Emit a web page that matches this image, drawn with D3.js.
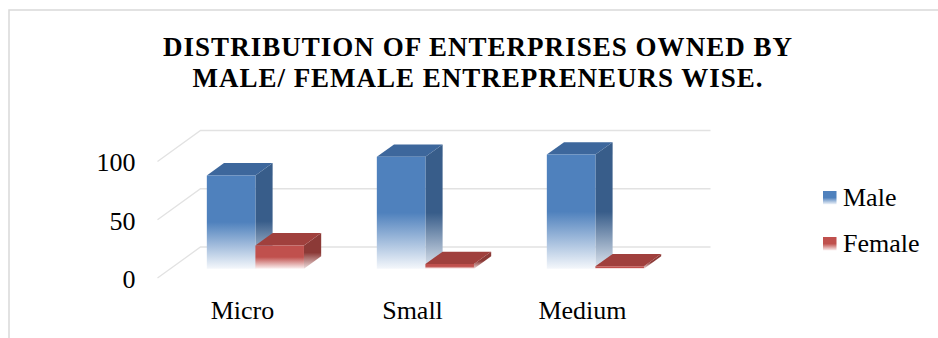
<!DOCTYPE html>
<html>
<head>
<meta charset="utf-8">
<script src="https://cdn.jsdelivr.net/npm/d3@7"></script>
<style>
  html, body { margin: 0; padding: 0; background: #fff; }
  svg { display: block; }
  text { font-family: "Liberation Serif", "Times New Roman", serif; fill: #000; }
</style>
</head>
<body>
<svg id="chart" width="938" height="338"></svg>
<script>
// Chart data
const titleLines = ["DISTRIBUTION OF ENTERPRISES OWNED BY", "MALE/ FEMALE ENTREPRENEURS WISE."];
const titleWidths = [629, 570];
const categories = ["Micro", "Small", "Medium"];
const seriesNames = ["Male", "Female"];
const maleValues = [80, 96, 98];
const femaleValues = [20, 4, 2];
const yTicks = [0, 50, 100];

const seriesValues = [maleValues, femaleValues];
const serif = "'Liberation Serif', 'Times New Roman', serif";
const palette = {
  Male:   { front: "#4f81bd", side: "#385d8a", top: "#3d679c", fadeFront: "#f4f7fb", fadeSide: "#dfe6ef" },
  Female: { front: "#c0504d", side: "#8c3a37", top: "#a0403d", fadeFront: "#fbf1f1", fadeSide: "#efdede" }
};

const svg = d3.select("#chart");
const defs = svg.append("defs");

// Frame around the chart area
svg.append("path")
  .attr("d", "M9,338 V10 H938")
  .attr("fill", "none")
  .attr("stroke", "#d9d9d9")
  .attr("stroke-width", 1.5);

// Title
svg.append("g").selectAll("text")
  .data(titleLines)
  .join("text")
  .attr("x", 477.5)
  .attr("y", (d, i) => 56 + i * 31)
  .attr("text-anchor", "middle")
  .attr("font-family", serif)
  .attr("font-size", 27)
  .attr("font-weight", "bold")
  .attr("textLength", (d, i) => titleWidths[i])
  .attr("lengthAdjust", "spacing")
  .text(d => d);

// Oblique 3D projection: front plane (z = 0) to back wall (z = 1)
const depthDx = 43, depthDy = -31;
const x0 = d3.scaleBand().domain(categories).range([157.5, 667.5]).padding(0);
const x1 = d3.scaleBand().domain(seriesNames).range([0, x0.bandwidth()])
  .paddingInner(0).paddingOuter(0.75);
const y = d3.scaleLinear().domain([0, 100]).range([278, 161.5]);
const P = (x, v, z) => [x + z * depthDx, y(v) + z * depthDy];

// Gridlines on back wall and side wall
const grid = svg.append("g").attr("stroke", "#e2e2e2").attr("stroke-width", 1.3).attr("fill", "none");
yTicks.forEach(t => {
  const a = P(x0.range()[0], t, 0), b = P(x0.range()[0], t, 1), c = P(x0.range()[1], t, 1);
  grid.append("path").attr("d", `M${a}L${b}L${c}`);
});

// Gradients for bar faces
seriesNames.forEach(s => {
  const c = palette[s];
  const gf = defs.append("linearGradient").attr("id", "front-" + s)
    .attr("x1", 0).attr("y1", 0).attr("x2", 0).attr("y2", 1);
  gf.append("stop").attr("offset", 0).attr("stop-color", c.front);
  gf.append("stop").attr("offset", 0.5).attr("stop-color", c.front);
  gf.append("stop").attr("offset", 1).attr("stop-color", c.fadeFront);
  const gs = defs.append("linearGradient").attr("id", "side-" + s)
    .attr("x1", 0).attr("y1", 0).attr("x2", 0).attr("y2", 1);
  gs.append("stop").attr("offset", 0).attr("stop-color", c.side);
  gs.append("stop").attr("offset", 0.55).attr("stop-color", c.side);
  gs.append("stop").attr("offset", 1).attr("stop-color", c.fadeSide);
});

// 3D bars
const zFront = 0.3, zBack = 0.7;
const bars = svg.append("g");
categories.forEach((cat, ci) => {
  seriesNames.forEach((s, si) => {
    const v = seriesValues[si][ci];
    const xl = x0(cat) + x1(s), xr = xl + x1.bandwidth();
    const poly = pts => "M" + pts.map(p => p.join(",")).join("L") + "Z";
    const g = bars.append("g");
    // right side face
    g.append("path")
      .attr("d", poly([P(xr, v, zFront), P(xr, v, zBack), P(xr, 0, zBack), P(xr, 0, zFront)]))
      .attr("fill", `url(#side-${s})`);
    // top face
    g.append("path")
      .attr("d", poly([P(xl, v, zFront), P(xl, v, zBack), P(xr, v, zBack), P(xr, v, zFront)]))
      .attr("fill", palette[s].top);
    // front face
    g.append("path")
      .attr("d", poly([P(xl, v, zFront), P(xr, v, zFront), P(xr, 0, zFront), P(xl, 0, zFront)]))
      .attr("fill", `url(#front-${s})`);
  });
});

// Value axis
svg.append("g")
  .attr("transform", "translate(157.5,0)")
  .call(d3.axisLeft(y).tickValues(yTicks).tickSize(0).tickPadding(22))
  .call(g => g.select(".domain").remove())
  .call(g => g.selectAll("text")
    .attr("font-family", serif)
    .attr("font-size", 26).attr("fill", "#000").attr("dy", "0.36em"));

// Category axis
svg.append("g")
  .attr("transform", "translate(0,278)")
  .call(d3.axisBottom(x0).tickSize(0).tickPadding(22.5))
  .call(g => g.select(".domain").remove())
  .call(g => g.selectAll("text")
    .attr("font-family", serif)
    .attr("font-size", 26).attr("fill", "#000"));

// Legend
const legend = svg.append("g").attr("transform", "translate(823,191)");
const li = legend.selectAll("g").data(seriesNames).join("g")
  .attr("transform", (d, i) => `translate(0,${i * 46})`);
li.append("rect").attr("width", 13.5).attr("height", 13.5)
  .attr("fill", d => `url(#front-${d})`);
li.append("text").attr("x", 20).attr("y", 15)
  .attr("font-family", serif)
  .attr("font-size", 26).text(d => d);
</script>
</body>
</html>
